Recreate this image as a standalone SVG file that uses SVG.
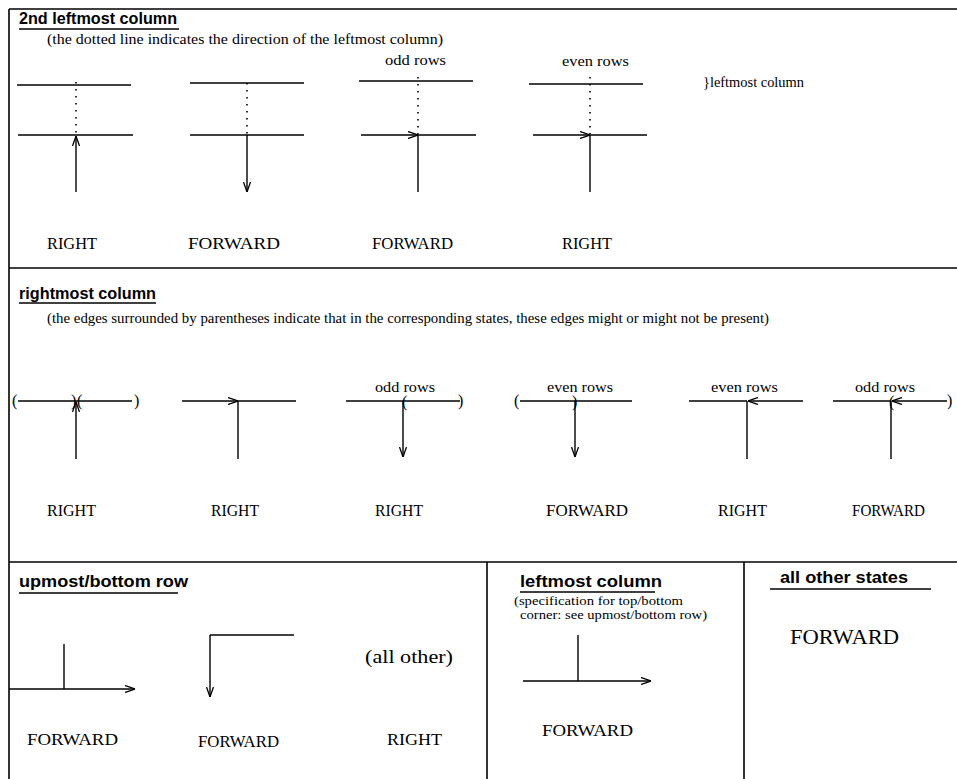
<svg xmlns="http://www.w3.org/2000/svg" width="957" height="779" viewBox="0 0 957 779">
<defs>
<marker id="arr" viewBox="0 0 10 8" refX="10" refY="4" markerWidth="10" markerHeight="8" markerUnits="userSpaceOnUse" orient="auto">
<path d="M0,0.5 L10,4 L0,7.5" fill="none" stroke="#000" stroke-width="1.3"/>
</marker>
</defs>
<style>
line{stroke:#000;stroke-width:1.4;fill:none}
.dot{stroke-dasharray:1.5 5.5;stroke-width:1.6}
.a{marker-end:url(#arr)}
.t{font-family:"Liberation Sans",Arial,sans-serif;font-weight:bold;font-size:16px;fill:#000}
.s{font-family:"Liberation Serif","Times New Roman",serif;fill:#000}
.f{stroke-width:1.6}
</style>
<rect width="957" height="779" fill="#fff"/>
<g id="frame">
<line class="f" x1="9" y1="9" x2="957" y2="9"/>
<line class="f" x1="9" y1="9" x2="9" y2="779"/>
<line class="f" x1="9" y1="268" x2="957" y2="268"/>
<line class="f" x1="9" y1="562" x2="957" y2="562"/>
<line class="f" x1="487" y1="562" x2="487" y2="779"/>
<line class="f" x1="744" y1="562" x2="744" y2="779"/>
</g>
<g id="sec-2nd-leftmost">
<text class="t" x="19" y="24" textLength="158" lengthAdjust="spacingAndGlyphs">2nd leftmost column</text>
<line x1="19" y1="29" x2="179" y2="29"/>
<text class="s" x="47" y="44" font-size="15" textLength="396" lengthAdjust="spacingAndGlyphs">(the dotted line indicates the direction of the leftmost column)</text>
<text class="s" x="703" y="87" font-size="14" textLength="101" lengthAdjust="spacingAndGlyphs">}leftmost column</text>
</g>
<g id="top-fig1">
<line x1="17" y1="85" x2="131" y2="85"/>
<line class="dot" x1="76" y1="82" x2="76" y2="134"/>
<line x1="18" y1="135" x2="133" y2="135"/>
<line class="a" x1="76" y1="192" x2="76" y2="136"/>
<text class="s" x="47" y="249" font-size="16" textLength="50" lengthAdjust="spacingAndGlyphs">RIGHT</text>
</g>
<g id="top-fig2">
<line x1="190" y1="83" x2="304" y2="83"/>
<line class="dot" x1="247" y1="83" x2="247" y2="134"/>
<line x1="190" y1="135" x2="304" y2="135"/>
<line class="a" x1="247" y1="135" x2="247" y2="192"/>
<text class="s" x="188" y="249" font-size="16" textLength="92" lengthAdjust="spacingAndGlyphs">FORWARD</text>
</g>
<g id="top-fig3">
<text class="s" x="385" y="65" font-size="15" textLength="61" lengthAdjust="spacingAndGlyphs">odd rows</text>
<line x1="359" y1="81" x2="473" y2="81"/>
<line class="dot" x1="418" y1="77" x2="418" y2="134"/>
<line class="a" x1="361" y1="135" x2="418" y2="135"/>
<line x1="418" y1="135" x2="476" y2="135"/>
<line x1="418" y1="135" x2="418" y2="192"/>
<text class="s" x="372" y="249" font-size="16" textLength="81" lengthAdjust="spacingAndGlyphs">FORWARD</text>
</g>
<g id="top-fig4">
<text class="s" x="562" y="66" font-size="15" textLength="67" lengthAdjust="spacingAndGlyphs">even rows</text>
<line x1="529" y1="84" x2="643" y2="84"/>
<line class="dot" x1="590" y1="77" x2="590" y2="134"/>
<line class="a" x1="533" y1="135" x2="590" y2="135"/>
<line x1="590" y1="135" x2="647" y2="135"/>
<line x1="590" y1="135" x2="590" y2="192"/>
<text class="s" x="562" y="249" font-size="16" textLength="50" lengthAdjust="spacingAndGlyphs">RIGHT</text>
</g>
<g id="sec-rightmost">
<text class="t" x="19" y="299" textLength="137" lengthAdjust="spacingAndGlyphs">rightmost column</text>
<line x1="19" y1="303" x2="156" y2="303"/>
<text class="s" x="47" y="323" font-size="15" textLength="722" lengthAdjust="spacingAndGlyphs">(the edges surrounded by parentheses indicate that in the corresponding states, these edges might or might not be present)</text>
</g>
<g id="mid-figA">
<text class="s" x="12" y="406" font-size="16">(</text>
<line x1="18" y1="401" x2="132" y2="401"/>
<text class="s" x="71" y="406" font-size="16">)</text>
<text class="s" x="77" y="406" font-size="16">(</text>
<text class="s" x="134" y="406" font-size="16">)</text>
<line class="a" x1="76" y1="459" x2="76" y2="402"/>
<text class="s" x="47" y="516" font-size="16" textLength="49" lengthAdjust="spacingAndGlyphs">RIGHT</text>
</g>
<g id="mid-figB">
<line class="a" x1="182" y1="401" x2="238" y2="401"/>
<line x1="238" y1="401" x2="296" y2="401"/>
<line x1="238" y1="401" x2="238" y2="459"/>
<text class="s" x="211" y="516" font-size="16" textLength="48" lengthAdjust="spacingAndGlyphs">RIGHT</text>
</g>
<g id="mid-figC">
<text class="s" x="375" y="392" font-size="15" textLength="60" lengthAdjust="spacingAndGlyphs">odd rows</text>
<line x1="346" y1="401" x2="460" y2="401"/>
<text class="s" x="402" y="407" font-size="16">(</text>
<text class="s" x="458" y="406" font-size="16">)</text>
<line class="a" x1="403" y1="401" x2="403" y2="457"/>
<text class="s" x="375" y="516" font-size="16" textLength="48" lengthAdjust="spacingAndGlyphs">RIGHT</text>
</g>
<g id="mid-figD">
<text class="s" x="514" y="406" font-size="16">(</text>
<line x1="520" y1="401" x2="632" y2="401"/>
<text class="s" x="572" y="407" font-size="16">)</text>
<text class="s" x="547" y="392" font-size="15" textLength="66" lengthAdjust="spacingAndGlyphs">even rows</text>
<line class="a" x1="575" y1="401" x2="575" y2="457"/>
<text class="s" x="546" y="516" font-size="16" textLength="82" lengthAdjust="spacingAndGlyphs">FORWARD</text>
</g>
<g id="mid-figE">
<text class="s" x="711" y="392" font-size="15" textLength="67" lengthAdjust="spacingAndGlyphs">even rows</text>
<line x1="689" y1="401" x2="747" y2="401"/>
<line class="a" x1="803" y1="401" x2="748" y2="401"/>
<line x1="747" y1="401" x2="747" y2="459"/>
<text class="s" x="718" y="516" font-size="16" textLength="49" lengthAdjust="spacingAndGlyphs">RIGHT</text>
</g>
<g id="mid-figF">
<text class="s" x="855" y="392" font-size="15" textLength="60" lengthAdjust="spacingAndGlyphs">odd rows</text>
<line x1="833" y1="401" x2="891" y2="401"/>
<text class="s" x="889" y="407" font-size="16">(</text>
<line class="a" x1="947" y1="401" x2="892" y2="401"/>
<text class="s" x="947" y="406" font-size="16">)</text>
<line x1="891" y1="401" x2="891" y2="459"/>
<text class="s" x="852" y="516" font-size="16" textLength="73" lengthAdjust="spacingAndGlyphs">FORWARD</text>
</g>
<g id="sec-upmost">
<text class="t" x="19" y="587" textLength="169" lengthAdjust="spacingAndGlyphs">upmost/bottom row</text>
<line x1="19" y1="593" x2="178" y2="593"/>
</g>
<g id="bot-fig1">
<line x1="64" y1="644" x2="64" y2="689"/>
<line class="a" x1="9" y1="689" x2="135" y2="689"/>
<text class="s" x="27" y="745" font-size="17" textLength="91" lengthAdjust="spacingAndGlyphs">FORWARD</text>
</g>
<g id="bot-fig2">
<line x1="210" y1="635" x2="294" y2="635"/>
<line class="a" x1="210" y1="635" x2="210" y2="697"/>
<text class="s" x="198" y="747" font-size="16" textLength="81" lengthAdjust="spacingAndGlyphs">FORWARD</text>
</g>
<g id="bot-fig3">
<text class="s" x="365" y="663" font-size="19" textLength="88" lengthAdjust="spacingAndGlyphs">(all other)</text>
<text class="s" x="387" y="745" font-size="17" textLength="55" lengthAdjust="spacingAndGlyphs">RIGHT</text>
</g>
<g id="sec-leftmost">
<text class="t" x="520" y="587" textLength="142" lengthAdjust="spacingAndGlyphs">leftmost column</text>
<line x1="520" y1="592" x2="655" y2="592"/>
<text class="s" x="514" y="605" font-size="13" textLength="169" lengthAdjust="spacingAndGlyphs">(specification for top/bottom</text>
<text class="s" x="520" y="619" font-size="13" textLength="187" lengthAdjust="spacingAndGlyphs">corner: see upmost/bottom row)</text>
<line x1="578" y1="635" x2="578" y2="681"/>
<line class="a" x1="523" y1="681" x2="651" y2="681"/>
<text class="s" x="542" y="736" font-size="17" textLength="91" lengthAdjust="spacingAndGlyphs">FORWARD</text>
</g>
<g id="sec-allother">
<text class="t" x="780" y="583" textLength="128" lengthAdjust="spacingAndGlyphs">all other states</text>
<line x1="770" y1="589" x2="931" y2="589"/>
<text class="s" x="790" y="644" font-size="21" textLength="109" lengthAdjust="spacingAndGlyphs">FORWARD</text>
</g>
<g id="connectors"></g>
</svg>
